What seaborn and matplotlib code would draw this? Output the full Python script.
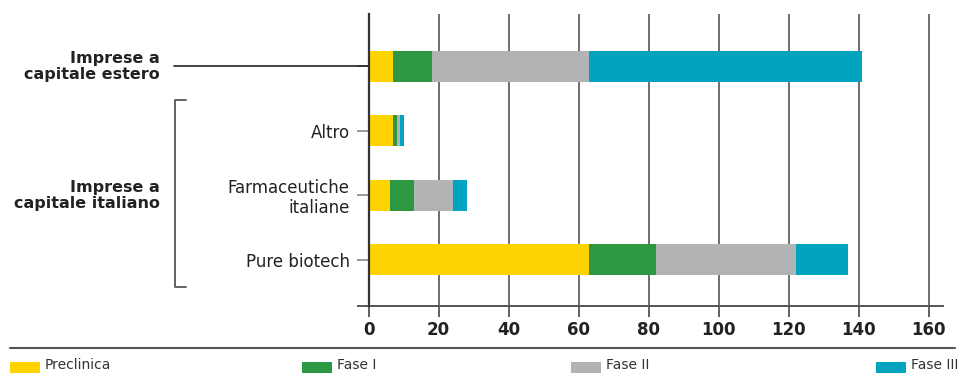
import matplotlib
matplotlib.use("Agg")
import matplotlib.pyplot as plt
import matplotlib.transforms as mtransforms
from matplotlib.patches import Rectangle
from matplotlib.lines import Line2D
import seaborn as sns
import pandas as pd
import numpy as np

# Pipeline projects by company type and development phase
categories = ["Imprese a capitale estero", "Altro", "Farmaceutiche italiane", "Pure biotech"]
tick_labels = ["", "Altro", "Farmaceutiche\nitaliane", "Pure biotech"]
phases = ["Preclinica", "Fase I", "Fase II", "Fase III"]
preclinica = [7, 7, 6, 63]
fase_1 = [11, 1, 7, 19]
fase_2 = [45, 1, 11, 40]
fase_3 = [78, 1, 4, 15]
colors = ["#FFD300", "#2D9842", "#B2B3B4", "#00A4BF"]
x_ticks = [0, 20, 40, 60, 80, 100, 120, 140, 160]

sns.set_theme(style="white")
plt.rcParams["font.family"] = ["DejaVu Sans"]

W, H = 960, 374
fig = plt.figure(figsize=(W / 100, H / 100), dpi=100)
ax = fig.add_axes([358 / W, 1 - 305.7 / H, 584.5 / W, (305.7 - 14) / H])

# stacked bars: draw cumulative totals from the last phase back to the first
series = [preclinica, fase_1, fase_2, fase_3]
cum = np.cumsum(np.array(series), axis=0)
for i in range(len(phases) - 1, -1, -1):
    df = pd.DataFrame({"categoria": categories, "valore": cum[i]})
    sns.barplot(data=df, x="valore", y="categoria", order=categories,
                color=colors[i], width=0.48, orient="h", ax=ax,
                saturation=1, zorder=3, edgecolor="none", linewidth=0)

ax.set_xlim(-3, 164)
ax.set_ylim(3.715, -0.81)
ax.set_xlabel("")
ax.set_ylabel("")

# vertical grid
ax.set_xticks(x_ticks)
ax.set_xticklabels([str(t) for t in x_ticks], fontsize=12, fontweight="bold",
                   color="#222222")
ax.grid(axis="x", color="#707070", lw=1.4, zorder=0)
ax.grid(axis="y", visible=False)
ax.tick_params(axis="x", which="major", direction="out", length=8, width=1.3,
               color="#555555", pad=3, bottom=True)

for s in ["top", "right"]:
    ax.spines[s].set_visible(False)
ax.spines["bottom"].set_color("#555555")
ax.spines["bottom"].set_linewidth(1.4)
ax.spines["left"].set_position(("data", 0))
ax.spines["left"].set_color("#333333")
ax.spines["left"].set_linewidth(1.6)
ax.spines["left"].set_zorder(4)

ax.set_yticks(range(len(categories)))
ax.set_yticklabels(tick_labels, fontsize=12, color="#222222", linespacing=1.15)
ax.tick_params(axis="y", which="major", direction="out", length=8.5, width=1.2,
               color="#888888", pad=5, left=True)

# group labels and connectors
blend = mtransforms.blended_transform_factory(fig.transFigure, ax.transData)
fig.text(160 / W, 0, "Imprese a\ncapitale estero", transform=blend,
         ha="right", va="center", fontsize=11.5, fontweight="bold",
         color="#222222", linespacing=1.1)
fig.lines.append(Line2D([174 / W, 368 / W], [0, 0], transform=blend,
                        color="#222222", lw=1.2))
fig.text(160 / W, 2.0, "Imprese a\ncapitale italiano", transform=blend,
         ha="right", va="center", fontsize=11.5, fontweight="bold",
         color="#222222", linespacing=1.1)
ft = fig.transFigure
y_top, y_bot = 1 - 100 / H, 1 - 287 / H
fig.lines.append(Line2D([186 / W, 175 / W, 175 / W, 186 / W],
                        [y_top, y_top, y_bot, y_bot], transform=ft,
                        color="#555555", lw=1.3))

# legend strip
fig.lines.append(Line2D([10 / W, 955 / W], [1 - 348 / H, 1 - 348 / H],
                        transform=ft, color="#555555", lw=1.5))
leg_x = [10, 302, 571, 876]
for x0, name, c in zip(leg_x, phases, colors):
    fig.patches.append(Rectangle((x0 / W, 1 - 373 / H), 30 / W, 11 / H,
                                 transform=ft, color=c, lw=0))
    fig.text((x0 + 35) / W, 1 - 372 / H, name, transform=ft, ha="left",
             va="bottom", fontsize=10, color="#333333")

fig.savefig("out.png", dpi=100)
